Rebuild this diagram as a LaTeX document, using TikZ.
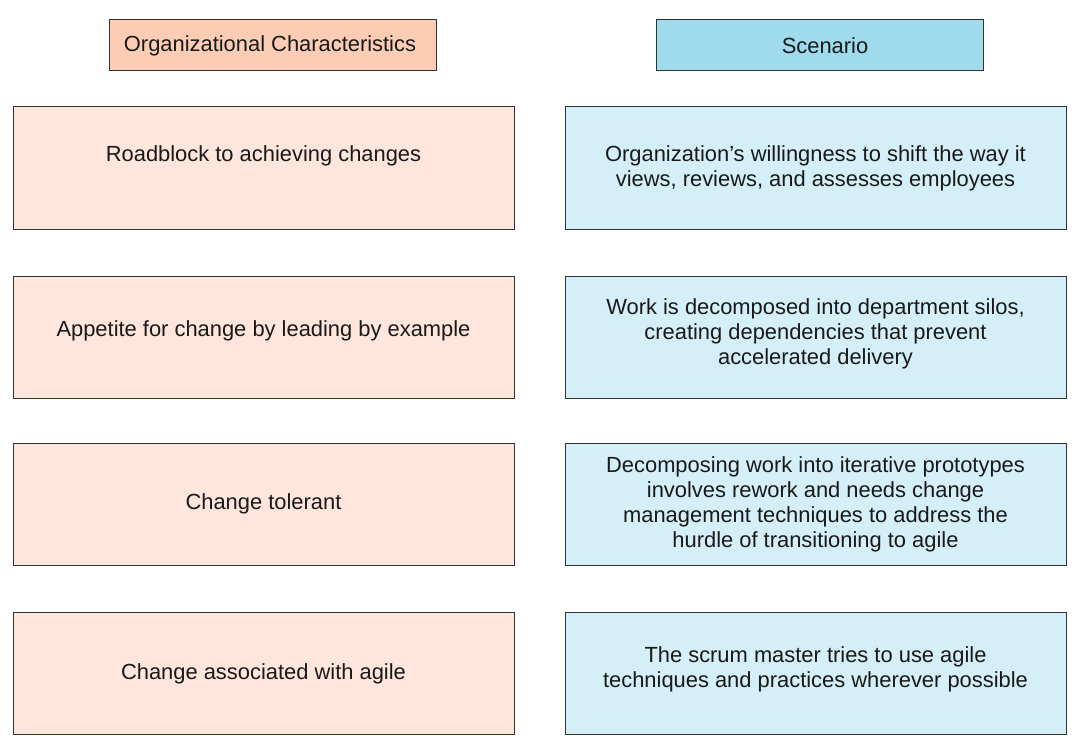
\documentclass[tikz,border=0pt]{standalone}
\usepackage{fontspec}
\setmainfont{Liberation Sans}
\begin{document}
\begin{tikzpicture}[x=1pt,y=-1pt,
  every node/.style={font=\fontsize{21.9}{25}\selectfont, text=black!90, align=center, inner sep=0pt},
  box/.style={draw=black!80, line width=1pt},
  orghead/.style={box, fill=orgHead},
  schead/.style={box, fill=scHead},
  orgcell/.style={box, fill=orgCell},
  sccell/.style={box, fill=scCell}]
\definecolor{orgHead}{HTML}{FCCDB4}
\definecolor{scHead}{HTML}{9FDAED}
\definecolor{orgCell}{HTML}{FEE6DC}
\definecolor{scCell}{HTML}{D4EFF7}
\useasboundingbox (0,0) rectangle (1087,755);

% column headers
\draw[orghead] (109,19) rectangle (436,70);
\node (h1) at (270,45.5) {Organizational Characteristics};
\draw[schead] (656,19) rectangle (983,70);
\node (h2) at (825,45.5) {Scenario};

% left column
\draw[orgcell] (13,106) rectangle (514,229);
\node (l1) at (263.5,156) {Roadblock to achieving changes};
\draw[orgcell] (13,276) rectangle (514,398);
\node (l2) at (263.5,331) {Appetite for change by leading by example};
\draw[orgcell] (13,443) rectangle (514,565);
\node (l3) at (263.5,504) {Change tolerant};
\draw[orgcell] (13,612) rectangle (514,734);
\node (l4) at (263.5,674) {Change associated with agile};

% right column
\draw[sccell] (565,106) rectangle (1066,229);
\node (r1) at (815.5,168.5) {Organization’s willingness to shift the way it\\views, reviews, and assesses employees};
\draw[sccell] (565,276) rectangle (1066,398);
\node (r2) at (815.5,334) {Work is decomposed into department silos,\\creating dependencies that prevent\\accelerated delivery};
\draw[sccell] (565,443) rectangle (1066,565);
\node (r3) at (815.5,504.5) {Decomposing work into iterative prototypes\\involves rework and needs change\\management techniques to address the\\hurdle of transitioning to agile};
\draw[sccell] (565,612) rectangle (1066,734);
\node (r4) at (815.5,669.5) {The scrum master tries to use agile\\techniques and practices wherever possible};
\end{tikzpicture}
\end{document}
